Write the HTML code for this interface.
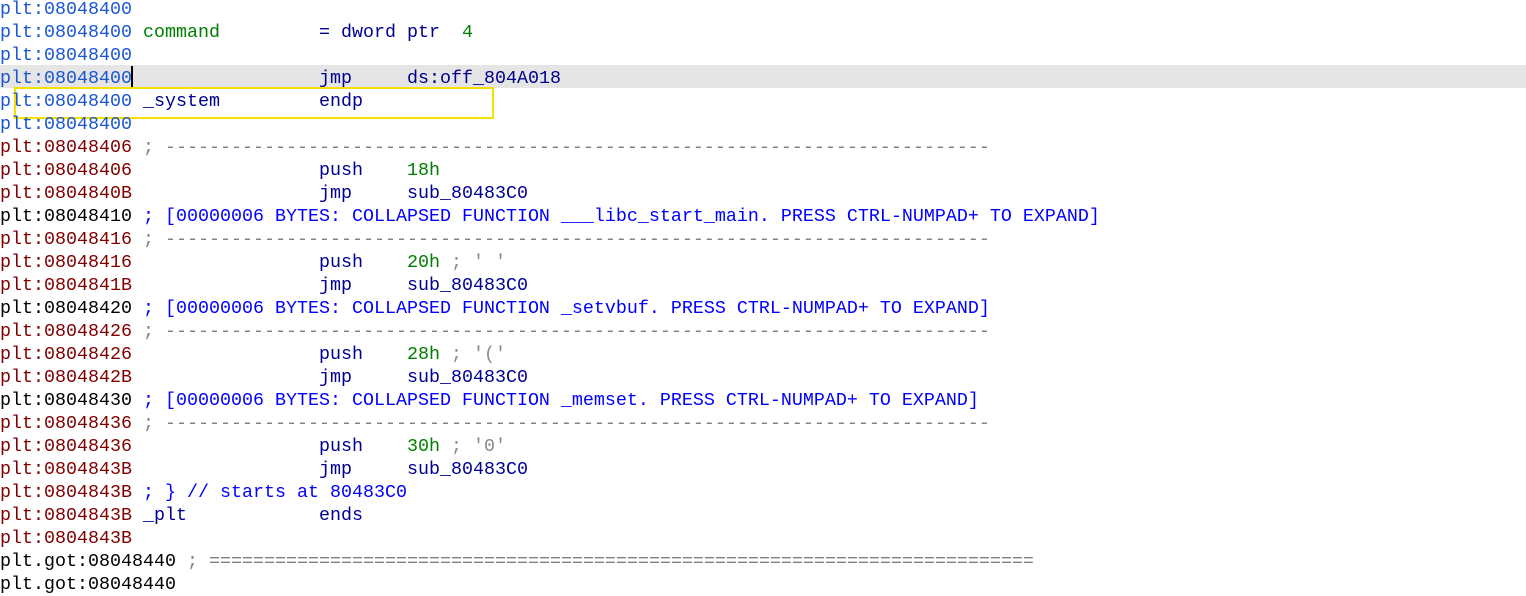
<!DOCTYPE html>
<html><head><meta charset="utf-8"><style>
html,body{margin:0;padding:0;background:#fff;width:1526px;height:581px;overflow:hidden}
.l{position:absolute;left:0;margin-top:2px;height:23px;line-height:23px;white-space:pre;font-family:"Liberation Mono",monospace;font-size:18.33px;color:#000080;width:1526px}
.a{color:#1a56d4}.r{color:#800000}.k{color:#000}.g{color:#008000}.y{color:#808080}.b{color:#0000ff}.n{color:#000090}.s{color:#8a8a8a}
</style></head><body>
<div style="position:absolute;left:0;top:65px;width:1526px;height:23px;background:#e5e5e5"></div>
<div style="position:absolute;left:131px;top:66px;width:2px;height:21px;background:#000"></div>
<div style="position:absolute;left:14px;top:87px;width:476px;height:28px;border:2px solid #f5e000"></div>
<div class="l" style="top:-4px"><span class="a">plt:08048400</span></div>
<div class="l" style="top:19px"><span class="a">plt:08048400</span> <span class="g">command</span>         <span class="n">= dword ptr  </span><span class="g">4</span></div>
<div class="l" style="top:42px"><span class="a">plt:08048400</span></div>
<div class="l" style="top:65px"><span class="a">plt:08048400</span>                 <span class="n">jmp     ds:off_804A018</span></div>
<div class="l" style="top:88px"><span class="a">plt:08048400</span> <span class="n">_system         endp</span></div>
<div class="l" style="top:111px"><span class="a">plt:08048400</span></div>
<div class="l" style="top:134px"><span class="r">plt:08048406</span> <span class="y">; ---------------------------------------------------------------------------</span></div>
<div class="l" style="top:157px"><span class="r">plt:08048406</span>                 <span class="n">push    </span><span class="g">18h</span></div>
<div class="l" style="top:180px"><span class="r">plt:0804840B</span>                 <span class="n">jmp     sub_80483C0</span></div>
<div class="l" style="top:203px"><span class="k">plt:08048410</span> <span class="b">; [00000006 BYTES: COLLAPSED FUNCTION ___libc_start_main. PRESS CTRL-NUMPAD+ TO EXPAND]</span></div>
<div class="l" style="top:226px"><span class="r">plt:08048416</span> <span class="y">; ---------------------------------------------------------------------------</span></div>
<div class="l" style="top:249px"><span class="r">plt:08048416</span>                 <span class="n">push    </span><span class="g">20h</span><span class="s"> ; ' '</span></div>
<div class="l" style="top:272px"><span class="r">plt:0804841B</span>                 <span class="n">jmp     sub_80483C0</span></div>
<div class="l" style="top:295px"><span class="k">plt:08048420</span> <span class="b">; [00000006 BYTES: COLLAPSED FUNCTION _setvbuf. PRESS CTRL-NUMPAD+ TO EXPAND]</span></div>
<div class="l" style="top:318px"><span class="r">plt:08048426</span> <span class="y">; ---------------------------------------------------------------------------</span></div>
<div class="l" style="top:341px"><span class="r">plt:08048426</span>                 <span class="n">push    </span><span class="g">28h</span><span class="s"> ; '('</span></div>
<div class="l" style="top:364px"><span class="r">plt:0804842B</span>                 <span class="n">jmp     sub_80483C0</span></div>
<div class="l" style="top:387px"><span class="k">plt:08048430</span> <span class="b">; [00000006 BYTES: COLLAPSED FUNCTION _memset. PRESS CTRL-NUMPAD+ TO EXPAND]</span></div>
<div class="l" style="top:410px"><span class="r">plt:08048436</span> <span class="y">; ---------------------------------------------------------------------------</span></div>
<div class="l" style="top:433px"><span class="r">plt:08048436</span>                 <span class="n">push    </span><span class="g">30h</span><span class="s"> ; '0'</span></div>
<div class="l" style="top:456px"><span class="r">plt:0804843B</span>                 <span class="n">jmp     sub_80483C0</span></div>
<div class="l" style="top:479px"><span class="r">plt:0804843B</span> <span class="b">; } // starts at 80483C0</span></div>
<div class="l" style="top:502px"><span class="r">plt:0804843B</span> <span class="n">_plt            ends</span></div>
<div class="l" style="top:525px"><span class="r">plt:0804843B</span></div>
<div class="l" style="top:548px"><span class="k">plt.got:08048440</span> <span class="y">; ===========================================================================</span></div>
<div class="l" style="top:571px"><span class="k">plt.got:08048440</span></div>
</body></html>
